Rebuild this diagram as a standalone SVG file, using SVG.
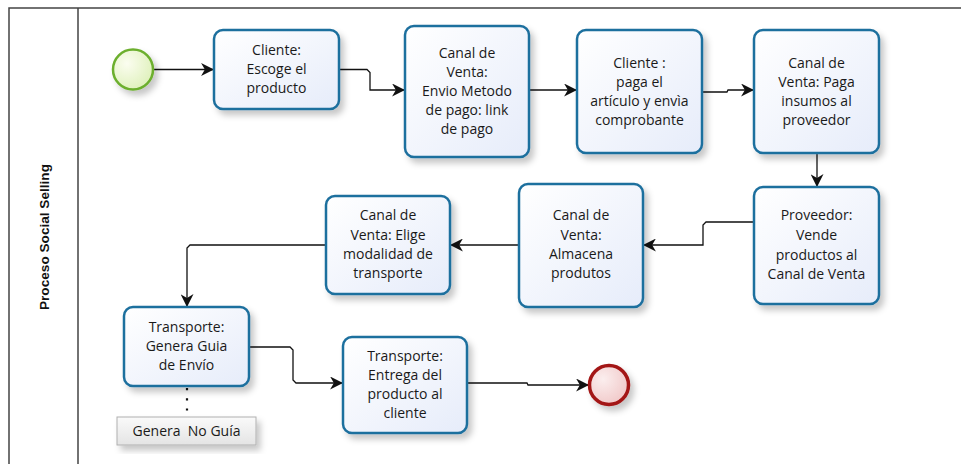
<svg xmlns="http://www.w3.org/2000/svg" width="961" height="464" viewBox="0 0 961 464">
<defs>
<linearGradient id="gTask" x1="0" y1="0" x2="1" y2="1">
<stop offset="0" stop-color="#ffffff"/>
<stop offset="1" stop-color="#e6ecfa"/>
</linearGradient>
<radialGradient id="gStart" cx="0.35" cy="0.35" r="0.75">
<stop offset="0" stop-color="#fbfdf0"/>
<stop offset="1" stop-color="#ddf0b8"/>
</radialGradient>
<radialGradient id="gEnd" cx="0.35" cy="0.35" r="0.75">
<stop offset="0" stop-color="#fbeeee"/>
<stop offset="1" stop-color="#f0c6c6"/>
</radialGradient>
<linearGradient id="gNote" x1="0" y1="0" x2="0" y2="1">
<stop offset="0" stop-color="#fafafa"/>
<stop offset="1" stop-color="#e4e4e4"/>
</linearGradient>
<filter id="sh" x="-20%" y="-20%" width="150%" height="150%">
<feDropShadow dx="4" dy="5" stdDeviation="3" flood-color="#000" flood-opacity="0.22"/>
</filter>
<marker id="arr" viewBox="0 0 12 12" refX="11" refY="6" markerWidth="13" markerHeight="13" markerUnits="userSpaceOnUse" orient="auto">
<path d="M0,0 L12,6 L0,12 L3.5,6 z" fill="#111"/>
</marker>
<style>
.task{fill:url(#gTask);stroke:#1f6f9e;stroke-width:2.5}
.t{font-family:"Open Sans","Noto Sans","DejaVu Sans",sans-serif;font-size:14px;fill:#1a1a1a;text-anchor:middle}
.conn{fill:none;stroke:#111;stroke-width:1.3;marker-end:url(#arr)}
.lane{fill:none;stroke:#444;stroke-width:1.5}
</style>
</defs>
<rect x="0" y="0" width="961" height="464" fill="#ffffff"/>
<g id="pool">
<path class="lane" d="M9,464 L9,8 L961,8 M78,8 L78,464"/>
<text x="49" y="237" transform="rotate(-90 49 237)" textLength="146" lengthAdjust="spacingAndGlyphs" style="font-family:'Liberation Sans','DejaVu Sans',sans-serif;font-size:13.5px;font-weight:bold;fill:#111;text-anchor:middle">Proceso Social Selling</text>
</g>
<g id="connectors">
<path class="conn" d="M154,69.5 L213,69.5"/>
<path class="conn" d="M339,69.5 L367,69.5 L370,72.5 L370,90 L404,90"/>
<path class="conn" d="M529,90 L576,90"/>
<path class="conn" d="M702,92 L727,92 L728,90 L753,90"/>
<path class="conn" d="M817,153 L817,186"/>
<path class="conn" d="M754,222 L706,222 L703,225 L703,245 L644,245"/>
<path class="conn" d="M519,245 L451,245"/>
<path class="conn" d="M326,245 L190,245 L187,248 L187,306"/>
<path class="conn" d="M249,347 L290,347 L293,350 L293,380 L296,383 L342,383"/>
<path class="conn" d="M467,383 L527,383 L528,385 L588,385"/>
<path d="M187,388 L187,416" fill="none" stroke="#111" stroke-width="2.2" stroke-dasharray="2.2,8"/>
</g>
<g id="start">
<circle cx="133" cy="69.5" r="20" fill="url(#gStart)" stroke="#6caf2e" stroke-width="2.5" filter="url(#sh)"/>
</g>
<g id="n1">
<rect class="task" x="214" y="30" width="125" height="79" rx="9" filter="url(#sh)"/>
<text class="t"><tspan x="276.5" y="55">Cliente:</tspan><tspan x="276.5" y="74">Escoge el</tspan><tspan x="276.5" y="93">producto</tspan></text>
</g>
<g id="n2">
<rect class="task" x="405" y="26" width="124" height="131" rx="9" filter="url(#sh)"/>
<text class="t"><tspan x="467" y="58">Canal de</tspan><tspan x="467" y="77">Venta:</tspan><tspan x="467" y="96">Envio Metodo</tspan><tspan x="467" y="115">de pago: link</tspan><tspan x="467" y="134">de pago</tspan></text>
</g>
<g id="n3">
<rect class="task" x="577" y="30" width="125" height="123" rx="9" filter="url(#sh)"/>
<text class="t"><tspan x="639.5" y="68">Cliente :</tspan><tspan x="639.5" y="87">paga el</tspan><tspan x="639.5" y="106">artículo y envìa</tspan><tspan x="639.5" y="125">comprobante</tspan></text>
</g>
<g id="n4">
<rect class="task" x="754" y="30" width="125" height="123" rx="9" filter="url(#sh)"/>
<text class="t"><tspan x="816.5" y="68">Canal de</tspan><tspan x="816.5" y="87">Venta: Paga</tspan><tspan x="816.5" y="106">insumos al</tspan><tspan x="816.5" y="125">proveedor</tspan></text>
</g>
<g id="n5">
<rect class="task" x="754" y="187" width="125" height="117" rx="9" filter="url(#sh)"/>
<text class="t"><tspan x="816.5" y="220">Proveedor:</tspan><tspan x="816.5" y="240">Vende</tspan><tspan x="816.5" y="260">productos al</tspan><tspan x="816.5" y="279">Canal de Venta</tspan></text>
</g>
<g id="n6">
<rect class="task" x="519" y="184" width="124" height="123" rx="9" filter="url(#sh)"/>
<text class="t"><tspan x="581" y="220">Canal de</tspan><tspan x="581" y="240">Venta:</tspan><tspan x="581" y="259">Almacena</tspan><tspan x="581" y="278">produtos</tspan></text>
</g>
<g id="n7">
<rect class="task" x="326" y="196" width="124" height="98" rx="9" filter="url(#sh)"/>
<text class="t"><tspan x="388" y="220">Canal de</tspan><tspan x="388" y="240">Venta: Elige</tspan><tspan x="388" y="259">modalidad de</tspan><tspan x="388" y="278">transporte</tspan></text>
</g>
<g id="n8">
<rect class="task" x="124" y="307" width="125" height="79" rx="9" filter="url(#sh)"/>
<text class="t"><tspan x="186.5" y="332">Transporte:</tspan><tspan x="186.5" y="351">Genera Guia</tspan><tspan x="186.5" y="370">de Envío</tspan></text>
</g>
<g id="n9">
<rect class="task" x="343" y="337" width="124" height="96" rx="9" filter="url(#sh)"/>
<text class="t"><tspan x="405" y="361">Transporte:</tspan><tspan x="405" y="380">Entrega del</tspan><tspan x="405" y="399">producto al</tspan><tspan x="405" y="418">cliente</tspan></text>
</g>
<g id="end">
<circle cx="609" cy="385" r="19.5" fill="url(#gEnd)" stroke="#a31515" stroke-width="3.5" filter="url(#sh)"/>
</g>
<g id="note">
<rect x="117" y="417" width="139" height="28" fill="url(#gNote)" stroke="#b0b0b0" stroke-width="1" filter="url(#sh)"/>
<text class="t" x="186.5" y="436" style="white-space:pre">Genera  No Guía</text>
</g>
</svg>
